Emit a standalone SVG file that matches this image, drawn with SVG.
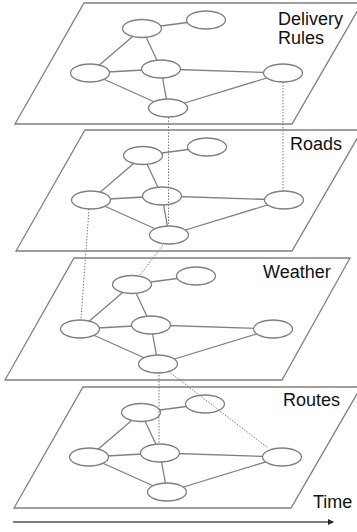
<svg xmlns="http://www.w3.org/2000/svg" width="357" height="532" viewBox="0 0 357 532">
<defs>
<style>
.plane{fill:#fff;stroke:#808080;stroke-width:1.3}
.edge{stroke:#808080;stroke-width:1.3;fill:none}
.node{fill:#fff;stroke:#808080;stroke-width:1.3}
.dot{stroke:#7a7a7a;stroke-width:1;stroke-dasharray:1.5 1.5;fill:none}
.lbl{font-family:"Liberation Sans",Arial,sans-serif;font-size:18px;fill:#111}
</style>
<marker id="ah" viewBox="0 0 6 6" refX="5" refY="3" markerWidth="6" markerHeight="6" markerUnits="userSpaceOnUse" orient="auto">
<path d="M0,0 L6,3 L0,6 z" fill="#222"/>
</marker>
<g id="graph">
<line class="edge" x1="206" y1="20" x2="142" y2="28.5"/>
<line class="edge" x1="142" y1="28.5" x2="90" y2="73"/>
<line class="edge" x1="142" y1="28.5" x2="161" y2="69"/>
<line class="edge" x1="90" y1="73" x2="161" y2="69"/>
<line class="edge" x1="161" y1="69" x2="283" y2="73"/>
<line class="edge" x1="90" y1="73" x2="168" y2="108"/>
<line class="edge" x1="161" y1="69" x2="168" y2="108"/>
<line class="edge" x1="283" y1="73" x2="168" y2="108"/>
<ellipse class="node" cx="206" cy="20" rx="19.5" ry="9"/>
<ellipse class="node" cx="142" cy="28.5" rx="19.5" ry="9"/>
<ellipse class="node" cx="90" cy="73" rx="19.5" ry="9"/>
<ellipse class="node" cx="161" cy="69" rx="19.5" ry="9"/>
<ellipse class="node" cx="283" cy="73" rx="19.5" ry="9"/>
<ellipse class="node" cx="168" cy="108" rx="19.5" ry="9"/>
</g>
</defs>

<g id="layer-delivery-rules">
<polygon class="plane" points="84,3 362,3 292,124 15,124"/>
<use href="#graph"/>
<text class="lbl" x="278" y="25">Delivery</text>
<text class="lbl" x="278" y="44">Rules</text>
</g>

<g id="layer-roads">
<polygon class="plane" points="85,130 362,130 292,251 16,251"/>
<use href="#graph" transform="translate(1,127)"/>
<text class="lbl" x="290" y="150">Roads</text>
</g>

<g id="layer-weather">
<polygon class="plane" points="74,258 350,258 282,380 5,380"/>
<use href="#graph" transform="translate(-10,256)"/>
<text class="lbl" x="263" y="278">Weather</text>
</g>

<g id="layer-routes">
<polygon class="plane" points="83,387 361,387 291,508 14,508"/>
<use href="#graph" transform="translate(-1,384)"/>
<text class="lbl" x="283" y="406">Routes</text>
</g>

<g id="connectors">
<line class="dot" x1="168.5" y1="117.5" x2="168.5" y2="226"/>
<line class="dot" x1="283" y1="82" x2="283" y2="191"/>
<line class="dot" x1="89" y1="209" x2="81" y2="319"/>
<line class="dot" x1="163" y1="245" x2="140" y2="275"/>
<line class="dot" x1="159" y1="372" x2="159" y2="444"/>
<line class="dot" x1="168" y1="371" x2="268" y2="448"/>
</g>

<g id="time-axis">
<line x1="13" y1="522" x2="333" y2="522" stroke="#555" stroke-width="1.3" marker-end="url(#ah)"/>
<text class="lbl" x="313" y="508">Time</text>
</g>
</svg>
